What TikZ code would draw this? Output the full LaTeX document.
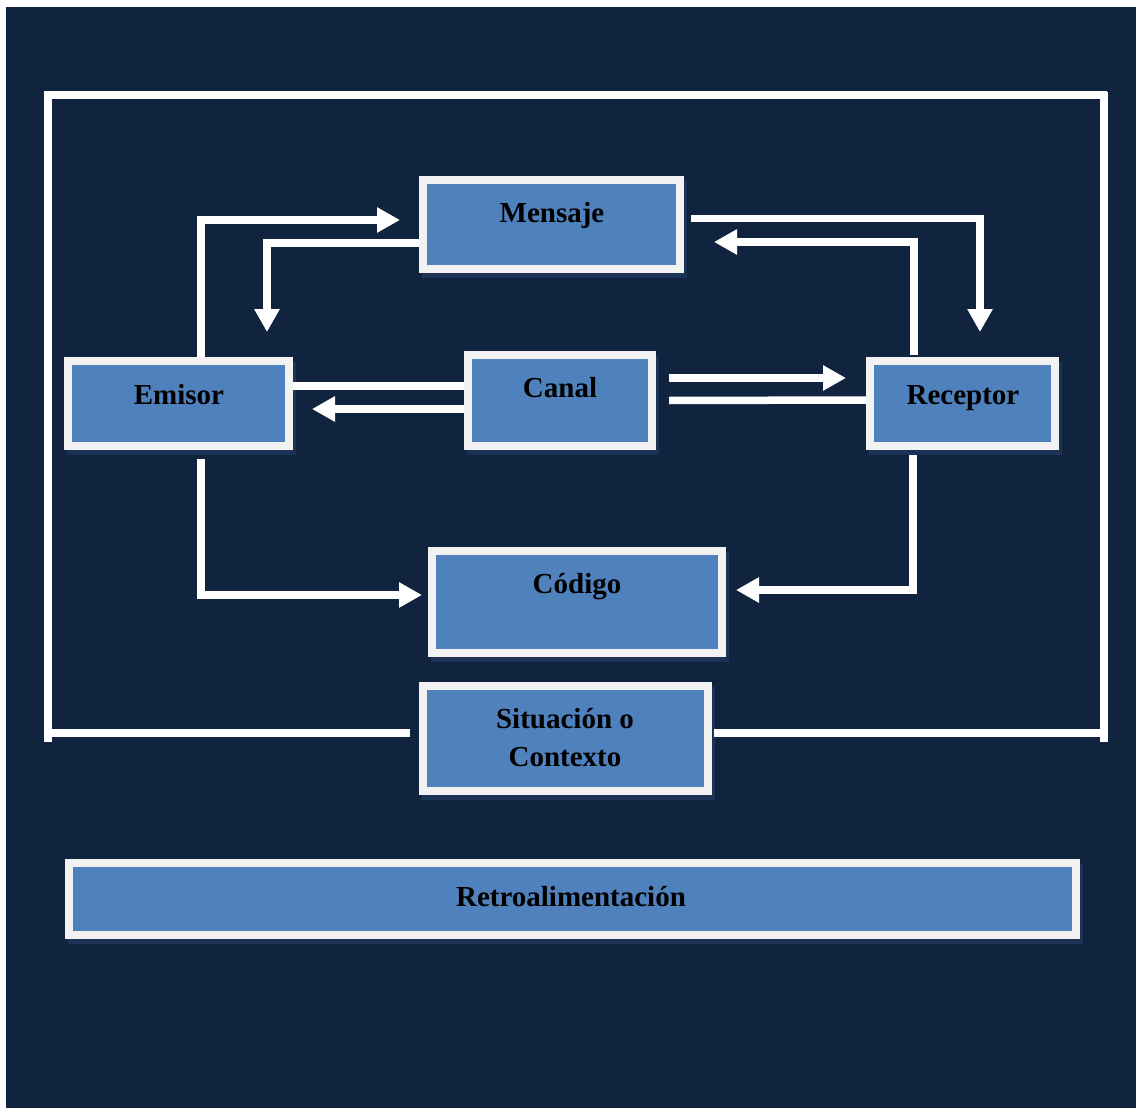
\documentclass[tikz,border=0pt]{standalone}
\usepackage{fontspec}
\setmainfont{Liberation Serif}
\usetikzlibrary{arrows.meta,calc,shadows}
\definecolor{bgc}{HTML}{10233F}
\definecolor{boxc}{HTML}{4F81BD}
\definecolor{bordc}{HTML}{F2F2F2}
\definecolor{shadc}{HTML}{1C3356}
\begin{document}
\begin{tikzpicture}[x=1pt,y=-1pt,
  box/.style={rectangle, draw=bordc, fill=boxc, line width=8pt, inner sep=0pt,
    general shadow={fill=shadc, draw=shadc, line width=8pt, shadow xshift=3pt, shadow yshift=-5pt}},
  lbl/.style={anchor=base, font=\bfseries\fontsize{29}{34}\selectfont, text=black, inner sep=0pt},
  wire/.style={draw=white, line width=7.5pt, line join=miter},
  arr/.style={wire, -{Triangle[length=23pt,width=24pt]}}]
\useasboundingbox (0,0) rectangle (1136,1108);
\fill[white] (0,0) rectangle (1136,1108);
\fill[bgc] (6,7) rectangle (1136,1108);

% boxes
\node[box, minimum width=257pt, minimum height=89pt] (mensaje) at (551.5,224.5) {};
\node[box, minimum width=221pt, minimum height=85pt] (emisor) at (178.5,403.5) {};
\node[box, minimum width=184pt, minimum height=91pt] (canal) at (560,400.5) {};
\node[box, minimum width=185pt, minimum height=85pt] (receptor) at (962.5,403.5) {};
\node[box, minimum width=290pt, minimum height=102pt] (codigo) at (577,602) {};
\node[box, minimum width=285pt, minimum height=105pt] (situacion) at (565.5,738.5) {};
\node[box, minimum width=1007pt, minimum height=72pt] (retro) at (572.5,899) {};

% labels
\node[lbl] (mensajeT) at (552,222) {Mensaje};
\node[lbl] (emisorT) at (179,404) {Emisor};
\node[lbl] (canalT) at (560,397) {Canal};
\node[lbl] (receptorT) at (963,404) {Receptor};
\node[lbl] (codigoT) at (577,593) {Código};
\node[lbl] (situacionT1) at (565,728) {Situación o};
\node[lbl] (situacionT2) at (565,766) {Contexto};
\node[lbl] (retroT) at (571,906) {Retroalimentación};

% outer frame
\draw[wire] (44,95) -- (1107,95);
\draw[wire] (48,92) -- (48,742);
\draw[wire] (1104,92) -- (1104,742);
\draw[wire] (48,733) -- ($(situacion.west)+(-9,-5.5)$);
\draw[wire] ($(situacion.east)+(2,-5.5)$) -- (1100,733);

% Emisor <-> Mensaje
\draw[arr] ($(emisor.north)+(22.5,0)$) |- ($(mensaje.west)+(-19,-4.5)$);
\draw[arr] ($(mensaje.west)+(0,18.5)$) -| ($(emisor.north)+(88.5,-25)$);
% Mensaje <-> Receptor
\draw[arr] ($(mensaje.east)+(7,-6)$) -| ($(receptor.north)+(17.5,-25)$);
\draw[arr] ($(receptor.north)+(-48.5,-2)$) |- ($(mensaje.east)+(30,17.5)$);
% Emisor <-> Canal
\draw[wire] ($(emisor.east)+(0,-17.5)$) -- ($(canal.west)+(0,-14.5)$);
\draw[arr] ($(canal.west)+(0,8.5)$) -- ($(emisor.east)+(19,5.5)$);
% Canal <-> Receptor
\draw[arr] ($(canal.east)+(13,-22.5)$) -- ($(receptor.west)+(-20,-25.5)$);
\draw[wire] ($(canal.east)+(13,0)$) -- ($(receptor.west)+(0,-3.5)$);
% to Codigo
\draw[arr] ($(emisor.south)+(22.5,9)$) |- ($(codigo.west)+(-6,-7)$);
\draw[arr] ($(receptor.south)+(-49.5,5)$) |- ($(codigo.east)+(10,-12)$);
\end{tikzpicture}
\end{document}
